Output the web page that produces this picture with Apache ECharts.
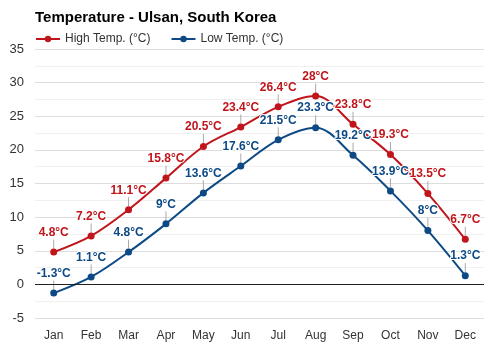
<!DOCTYPE html>
<html><head><meta charset="utf-8">
<script src="https://cdn.jsdelivr.net/npm/echarts@6/dist/echarts.min.js"></script>
<style>html,body{margin:0;padding:0;background:#fff}#c{width:500px;height:350px}</style>
</head><body><div id="c"></div>
<script>
var months = ['Jan','Feb','Mar','Apr','May','Jun','Jul','Aug','Sep','Oct','Nov','Dec'];
var highTemp = [4.8, 7.2, 11.1, 15.8, 20.5, 23.4, 26.4, 28, 23.8, 19.3, 13.5, 6.7];
var lowTemp = [-1.3, 1.1, 4.8, 9, 13.6, 17.6, 21.5, 23.3, 19.2, 13.9, 8, 1.3];
var yTicks = [-5, 0, 5, 10, 15, 20, 25, 30, 35];

var RED = '#c0151b', BLUE = '#0d4a85';
function mk(name, data, color) {
  return {
    name: name, type: 'line', data: data, smooth: 0.35,
    symbol: 'circle', symbolSize: 7,
    lineStyle: {color: color, width: 2},
    itemStyle: {color: color},
    label: {show: true, position: 'top', distance: 4, color: color,
      fontFamily: 'Arial, Liberation Sans, sans-serif', fontWeight: 'bold', fontSize: 12,
      textBorderColor: '#fff', textBorderWidth: 2,
      formatter: function (p) { return p.value + '°C'; }},
    labelLayout: {dy: -6},
    labelLine: {show: true, lineStyle: {color: '#aaaaaa', width: 1}},
    emphasis: {disabled: true}
  };
}
var s1 = mk('High Temp. (°C)', highTemp, RED);
s1.markLine = {silent: true, symbol: 'none', label: {show: false},
  lineStyle: {color: '#222', width: 1, type: 'solid'}, data: [{yAxis: 0}]};
var chart = echarts.init(document.getElementById('c'), null, {renderer: 'canvas'});
chart.setOption({
  animation: false,
  backgroundColor: '#fff',
  textStyle: {fontFamily: 'Arial, Liberation Sans, sans-serif'},
  title: {text: 'Temperature - Ulsan, South Korea', left: 30, top: 5,
    textStyle: {fontSize: 15, fontWeight: 'bold', color: '#000', fontFamily: 'Arial, Liberation Sans, sans-serif'}},
  legend: {left: 30, top: 28, itemWidth: 24, itemHeight: 8, itemGap: 20,
    textStyle: {fontSize: 12, color: '#333'},
    data: ['High Temp. (°C)', 'Low Temp. (°C)']},
  grid: {left: 35, right: 16, top: 49, bottom: 32},
  xAxis: {type: 'category', data: months, boundaryGap: true,
    axisLine: {show: false}, axisTick: {show: false},
    axisLabel: {color: '#333', fontSize: 12, margin: 12}},
  yAxis: {type: 'value', min: yTicks[0], max: yTicks[yTicks.length - 1], interval: 5,
    axisLine: {show: false}, axisTick: {show: false},
    axisLabel: {color: '#333', fontSize: 13, margin: 11},
    splitLine: {lineStyle: {color: '#dddddd'}},
    minorTick: {show: false, splitNumber: 2},
    minorSplitLine: {show: true, lineStyle: {color: '#f0f0f0'}}},
  series: [s1, mk('Low Temp. (°C)', lowTemp, BLUE)]
});
</script></body></html>
